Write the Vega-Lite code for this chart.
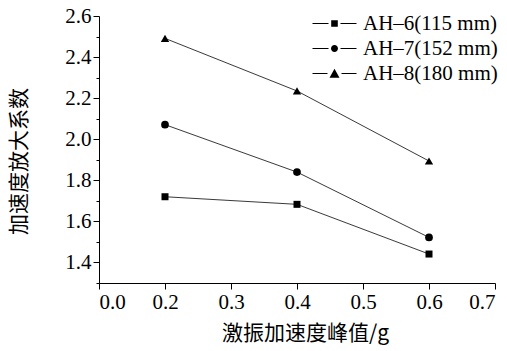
{
  "$schema": "https://vega.github.io/schema/vega-lite/v6.json",
  "width": 396,
  "height": 267,
  "autosize": {"type": "none"},
  "padding": {"left": 99, "top": 16, "right": 12, "bottom": 68},
  "background": "white",
  "config": {
    "view": {"stroke": null},
    "axis": {
      "domainColor": "#000",
      "tickColor": "#000",
      "labelColor": "#000",
      "titleColor": "#000",
      "labelFont": "Liberation Serif",
      "labelFontSize": 21,
      "grid": false,
      "titleFont": "Noto Sans CJK SC",
      "titleFontSize": 21,
      "titleFontWeight": "normal"
    },
    "legend": {
      "labelFont": "Liberation Serif",
      "labelFontSize": 21,
      "labelColor": "#000"
    }
  },
  "data": {
    "values": [
      {"series": "AH–6(115 mm)", "x": 0.2, "y": 1.72},
      {"series": "AH–6(115 mm)", "x": 0.4, "y": 1.683},
      {"series": "AH–6(115 mm)", "x": 0.6, "y": 1.441},
      {"series": "AH–7(152 mm)", "x": 0.2, "y": 2.071},
      {"series": "AH–7(152 mm)", "x": 0.4, "y": 1.84},
      {"series": "AH–7(152 mm)", "x": 0.6, "y": 1.522},
      {"series": "AH–8(180 mm)", "x": 0.2, "y": 2.491},
      {"series": "AH–8(180 mm)", "x": 0.4, "y": 2.235},
      {"series": "AH–8(180 mm)", "x": 0.6, "y": 1.894}
    ]
  },
  "encoding": {
    "x": {
      "field": "x", "type": "quantitative",
      "scale": {"domain": [0.1, 0.7], "nice": false, "zero": false},
      "axis": {
        "title": "激振加速度峰值/g",
        "values": [0.1, 0.2, 0.3, 0.4, 0.5, 0.6, 0.7],
        "labelExpr": "datum.value < 0.15 ? '0.0' : format(datum.value, '.1f')",
        "tickSize": 6,
        "labelPadding": 2,
        "titlePadding": 10,
        "titleX": 206
      }
    },
    "y": {
      "field": "y", "type": "quantitative",
      "scale": {"domain": [1.3, 2.6], "nice": false, "zero": false},
      "axis": {
        "title": "加速度放大系数",
        "values": [1.3, 1.4, 1.5, 1.6, 1.7, 1.8, 1.9, 2.0, 2.1, 2.2, 2.3, 2.4, 2.5, 2.6],
        "labelExpr": "round(datum.value * 10) % 2 == 0 ? format(datum.value, '.1f') : ''",
        "tickSize": {"condition": {"test": "round(datum.value * 10) % 2 == 0", "value": 6}, "value": 3},
        "labelPadding": 2,
        "titlePadding": 35,
        "titleY": 145
      }
    }
  },
  "layer": [
    {
      "mark": {"type": "line", "color": "#222", "strokeWidth": 0.9},
      "encoding": {"detail": {"field": "series"}}
    },
    {
      "mark": {"type": "point", "filled": true, "color": "#000", "opacity": 1},
      "encoding": {
        "shape": {
          "field": "series", "type": "nominal",
          "scale": {"domain": ["AH–6(115 mm)", "AH–7(152 mm)", "AH–8(180 mm)"], "range": ["square", "circle", "triangle-up"]},
          "legend": null
        },
        "size": {
          "field": "series", "type": "nominal",
          "scale": {"domain": ["AH–6(115 mm)", "AH–7(152 mm)", "AH–8(180 mm)"], "range": [49, 70, 72]},
          "legend": null
        }
      }
    },
    {
      "transform": [{"filter": "false"}],
      "mark": {"type": "point", "filled": true, "color": "#000", "size": 400, "opacity": 1},
      "encoding": {
        "shape": {
          "field": "series", "type": "nominal",
          "scale": {
            "domain": ["AH–6(115 mm)", "AH–7(152 mm)", "AH–8(180 mm)"],
            "range": [
              "M-2.2,-0.055H-0.6V0.055H-2.2Z M0.6,-0.055H2.2V0.055H0.6Z M-0.33,-0.33H0.33V0.33H-0.33Z",
              "M-2.2,-0.055H-0.6V0.055H-2.2Z M0.6,-0.055H2.2V0.055H0.6Z M-0.35,0A0.35,0.35,0,1,0,0.35,0A0.35,0.35,0,1,0,-0.35,0Z",
              "M-2.2,-0.055H-0.7V0.055H-2.2Z M0.7,-0.055H2.2V0.055H0.7Z M0,-0.48L0.5,0.42H-0.5Z"
            ]
          },
          "legend": {
            "title": null,
            "orient": "none",
            "legendX": 225,
            "legendY": -3,
            "padding": 0,
            "symbolSize": 400,
            "symbolFillColor": "#000",
            "symbolStrokeWidth": 0,
            "symbolOpacity": 1,
            "labelOffset": 18,
            "rowPadding": 3
          }
        }
      }
    }
  ],
  "resolve": {"scale": {"shape": "independent", "size": "independent"}}
}
